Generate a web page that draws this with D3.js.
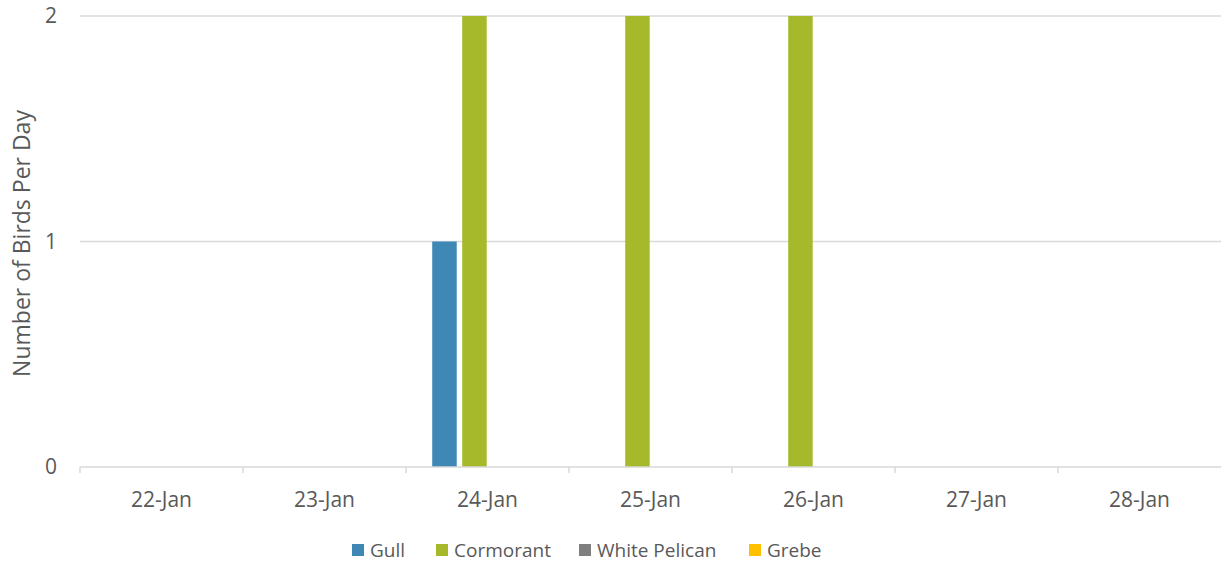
<!DOCTYPE html>
<html>
<head>
<meta charset="utf-8">
<script src="https://cdn.jsdelivr.net/npm/d3@7"></script>
<style>
  body { margin: 0; background: #fff; }
  text { font-family: "Open Sans", "Noto Sans", sans-serif; fill: #595959; }
</style>
</head>
<body>
<div id="main"></div>
<script>
var days = ["22-Jan", "23-Jan", "24-Jan", "25-Jan", "26-Jan", "27-Jan", "28-Jan"];
var species = ["Gull", "Cormorant", "White Pelican", "Grebe"];
var gull = [0, 0, 1, 0, 0, 0, 0];
var cormorant = [0, 0, 2, 2, 2, 0, 0];
var whitePelican = [0, 0, 0, 0, 0, 0, 0];
var grebe = [0, 0, 0, 0, 0, 0, 0];
var yTicks = [0, 1, 2];
var colors = ["#3f87b5", "#a5b92a", "#7f7f7f", "#ffc000"];

var seriesValues = [gull, cormorant, whitePelican, grebe];
var width = 1221, height = 569;
var margin = { top: 16, right: 0, bottom: 102, left: 80 };
var plotW = width - margin.left - margin.right;
var plotH = height - margin.top - margin.bottom;

var svg = d3.select("#main")
  .append("svg")
    .attr("width", width)
    .attr("height", height);

var g = svg.append("g")
  .attr("transform", "translate(" + margin.left + "," + margin.top + ")");

var x0 = d3.scaleBand().domain(days).range([0, plotW]).padding(0);
var x1 = d3.scaleBand().domain(species).range([0, x0.bandwidth()])
  .paddingInner(0.183).paddingOuter(0.81).align(0.54);
var y = d3.scaleLinear().domain([0, 2]).range([plotH, 0]);

// gridlines
g.selectAll(".grid")
  .data(yTicks.filter(function (d) { return d > 0; }))
  .enter().append("line")
    .attr("x1", 0).attr("x2", plotW)
    .attr("y1", function (d) { return y(d); })
    .attr("y2", function (d) { return y(d); })
    .attr("stroke", "#d9d9d9")
    .attr("stroke-width", 1.5);

// y tick labels
g.selectAll(".ylab")
  .data(yTicks)
  .enter().append("text")
    .attr("x", -23)
    .attr("y", function (d) { return y(d); })
    .attr("dy", "0.35em")
    .attr("text-anchor", "end")
    .attr("font-size", 21)
    .text(function (d) { return d; });

// bars
var groups = g.selectAll(".day")
  .data(days)
  .enter().append("g")
    .attr("transform", function (d) { return "translate(" + x0(d) + ",0)"; });

groups.selectAll("rect")
  .data(function (d, i) {
    return species.map(function (s, k) { return { s: s, v: seriesValues[k][i], c: colors[k] }; });
  })
  .enter().append("rect")
    .attr("x", function (d) { return x1(d.s); })
    .attr("width", x1.bandwidth())
    .attr("y", function (d) { return y(d.v); })
    .attr("height", function (d) { return plotH - y(d.v); })
    .attr("fill", function (d) { return d.c; });

// x axis
var xAxis = g.append("g")
  .attr("transform", "translate(0," + plotH + ")");
xAxis.append("line")
  .attr("x1", 0).attr("x2", plotW)
  .attr("stroke", "#d9d9d9").attr("stroke-width", 1.5);
xAxis.selectAll(".tick")
  .data(days)
  .enter().append("line")
    .attr("x1", function (d) { return x0(d); })
    .attr("x2", function (d) { return x0(d); })
    .attr("y1", 0).attr("y2", 6)
    .attr("stroke", "#d9d9d9").attr("stroke-width", 1.5);
xAxis.selectAll(".xlab")
  .data(days)
  .enter().append("text")
    .attr("x", function (d) { return x0(d) + x0.bandwidth() / 2; })
    .attr("y", 40)
    .attr("text-anchor", "middle")
    .attr("font-size", 21)
    .text(function (d) { return d; });

// y axis title
svg.append("text")
  .attr("transform", "translate(30," + (margin.top + plotH / 2 + 2) + ") rotate(-90)")
  .attr("text-anchor", "middle")
  .attr("font-size", 23)
  .text("Number of Birds Per Day");

// legend
var legendX = [352, 436, 579, 749];
var legend = svg.selectAll(".legend")
  .data(species)
  .enter().append("g")
    .attr("transform", function (d, i) { return "translate(" + legendX[i] + ",550)"; });
legend.append("rect")
  .attr("x", 0).attr("y", -6)
  .attr("width", 12).attr("height", 12)
  .attr("fill", function (d, i) { return colors[i]; });
legend.append("text")
  .attr("x", 18)
  .attr("y", 7)
  .attr("font-size", 19)
  .text(function (d) { return d; });
</script>
</body>
</html>
